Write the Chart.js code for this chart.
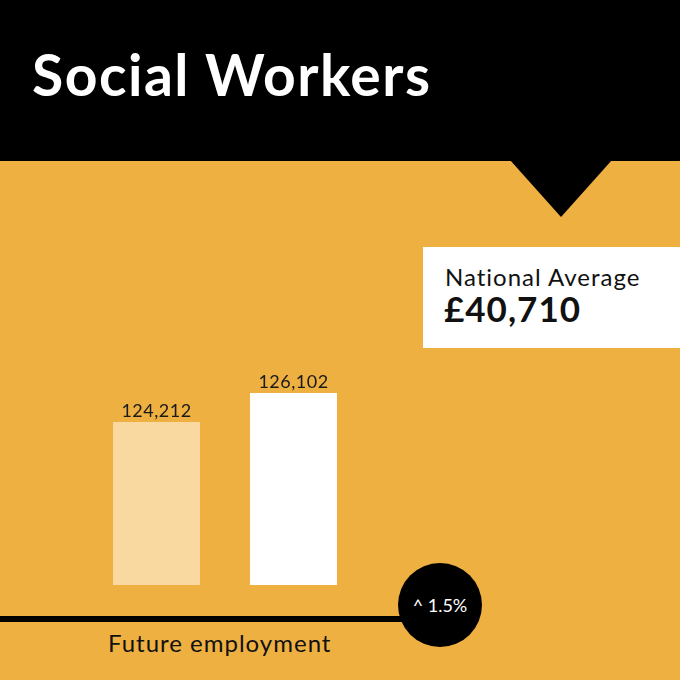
<!DOCTYPE html>
<html>
<head>
<meta charset="utf-8">
<script src="https://cdn.jsdelivr.net/npm/chart.js@4"></script>
<style>
  html, body { margin: 0; padding: 0; }
  body { width: 680px; height: 680px; position: relative; overflow: hidden; background: #EEB041; font-family: Lato, "Noto Sans", sans-serif; }
  #header { position: absolute; left: 0; top: 0; width: 680px; height: 161px; background: #000; }
  #title { position: absolute; left: 32px; top: 41px; margin: 0; color: #fff; font-weight: 700; font-size: 57px; line-height: 66px; letter-spacing: 1.5px; white-space: nowrap; }
  #tri { position: absolute; left: 510px; top: 160px; width: 0; height: 0; border-left: 51px solid transparent; border-right: 51px solid transparent; border-top: 57px solid #000; }
  #box { position: absolute; left: 423px; top: 247px; width: 257px; height: 101px; background: #fff; }
  #box .lab { position: absolute; left: 22px; top: 15px; font-size: 24px; letter-spacing: 1px; color: #111; white-space: nowrap; }
  #box .val { position: absolute; left: 21px; top: 40px; font-size: 35px; font-weight: 700; letter-spacing: 1px; color: #111; white-space: nowrap; }
  #line { position: absolute; left: 0; top: 616px; width: 420px; height: 6px; background: #000; }
  #circle { position: absolute; left: 398px; top: 563px; width: 84px; height: 84px; border-radius: 50%; background: #000; color: #fff; font-size: 18px; display: flex; align-items: center; justify-content: center; white-space: nowrap; }
  #foot { position: absolute; left: 108px; top: 628px; font-size: 24px; letter-spacing: 1px; color: #111; white-space: nowrap; }
  #c { position: absolute; left: 0; top: 0; }
</style>
</head>
<body>
<div id="header"><div id="title">Social Workers</div></div>
<div id="tri"></div>
<div id="box"><div class="lab">National Average</div><div class="val">£40,710</div></div>
<div id="line"></div>
<div id="circle">^ 1.5%</div>
<div id="foot">Future employment</div>
<canvas id="c" width="680" height="680"></canvas>
<script>
const categories = ["2025", "2027"];
const employment = [124212, 126102];
const barColors = ["#FAD9A1", "#FFFFFF"];
const yMin = 113600;
const yMax = 130000;

const labelPlugin = {
  id: 'barLabels',
  afterDatasetsDraw(chart) {
    const ctx = chart.ctx;
    const meta = chart.getDatasetMeta(0);
    ctx.save();
    ctx.fillStyle = '#1a1a1a';
    ctx.font = '18px Lato, "Noto Sans", sans-serif';
    if ('letterSpacing' in ctx) ctx.letterSpacing = '0.5px';
    ctx.textAlign = 'center';
    ctx.textBaseline = 'alphabetic';
    meta.data.forEach((bar, i) => {
      const v = chart.data.datasets[0].data[i];
      ctx.fillText(v.toLocaleString('en-GB'), bar.x, bar.y - 5);
      ctx.fillText(chart.data.labels[i], bar.x, bar.base + 21);
    });
    ctx.restore();
  }
};

new Chart(document.getElementById('c'), {
  type: 'bar',
  data: {
    labels: categories,
    datasets: [{
      data: employment,
      backgroundColor: barColors,
      borderWidth: 0,
      barPercentage: 0.635,
      categoryPercentage: 1
    }]
  },
  options: {
    responsive: false,
    animation: false,
    layout: { padding: { left: 88, right: 318, top: 333, bottom: 95 } },
    plugins: { legend: { display: false }, tooltip: { enabled: false } },
    scales: {
      x: { display: false },
      y: { display: false, min: yMin, max: yMax }
    }
  },
  plugins: [labelPlugin]
});
</script>
</body>
</html>
